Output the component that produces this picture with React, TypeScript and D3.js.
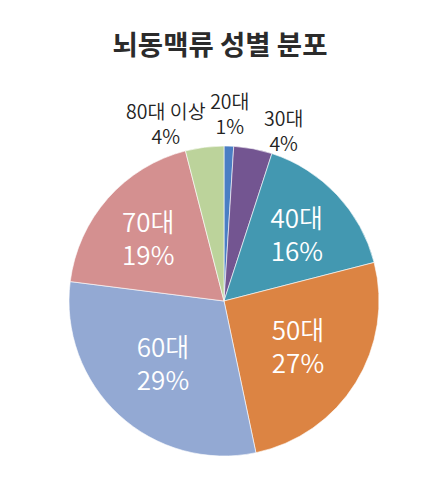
import React from "react";
import * as d3 from "d3";

const ageGroups = ["20대", "30대", "40대", "50대", "60대", "70대", "80대 이상"];
// slice sizes (labels below are the printed ones)
const shares = [1, 4, 16, 25.7, 30.3, 19, 4];
const pctLabels = ["1%", "4%", "16%", "27%", "29%", "19%", "4%"];
const colors = ["#4a7ec4", "#735591", "#4398b1", "#dc8443", "#93a9d3", "#d49090", "#bcd39b"];

// label layout: outside or inside, and nudges from the centroid
const outside = [true, true, false, false, false, false, true];
const nudge = [
  [0, -3],
  [25, 11],
  [5, -4],
  [-5, -5],
  [2, -7],
  [-6, -3],
  [-35, 6],
];

const W = 447;
const H = 487;
const cx = 224;
const cy = 301;
const R = 155;

function App() {
  const pie = d3
    .pie<number>()
    .sort(null)
    .value((d) => d);
  const arcs = pie(shares);
  const arc = d3.arc<d3.PieArcDatum<number>>().innerRadius(0).outerRadius(R);
  const inArc = d3.arc<d3.PieArcDatum<number>>().innerRadius(93).outerRadius(93);
  const outArc = d3.arc<d3.PieArcDatum<number>>().innerRadius(185).outerRadius(185);

  return (
    <svg
      width={W}
      height={H}
      style={{ position: "absolute", left: 0, top: 0, background: "#fff" }}
      fontFamily="'Noto Sans CJK KR', 'Noto Sans', sans-serif"
    >
      <text x={220} y={43} textAnchor="middle" dominantBaseline="central" fontSize={27.5} fontWeight={700} fill="#2b2b2b">
        뇌동맥류 성별 분포
      </text>
      <g transform={`translate(${cx},${cy})`}>
        {arcs.map((a, i) => (
          <path key={i} d={arc(a) || ""} fill={colors[i]} stroke="#fff" strokeWidth={0.6} />
        ))}
        {arcs.map((a, i) => {
          const out = outside[i];
          const [x, y] = (out ? outArc : inArc).centroid(a);
          const px = x + nudge[i][0];
          const py = y + nudge[i][1];
          const gap = out ? 12.5 : 16.5;
          return (
            <g key={"l" + i} fill={out ? "#222" : "#fff"} fontSize={out ? 19.5 : 26} fontWeight={350} textAnchor="middle">
              <text x={px} y={py - gap} dominantBaseline="central">
                {ageGroups[i]}
              </text>
              <text x={px} y={py + gap} dominantBaseline="central">
                {pctLabels[i]}
              </text>
            </g>
          );
        })}
      </g>
    </svg>
  );
}

export default App;
